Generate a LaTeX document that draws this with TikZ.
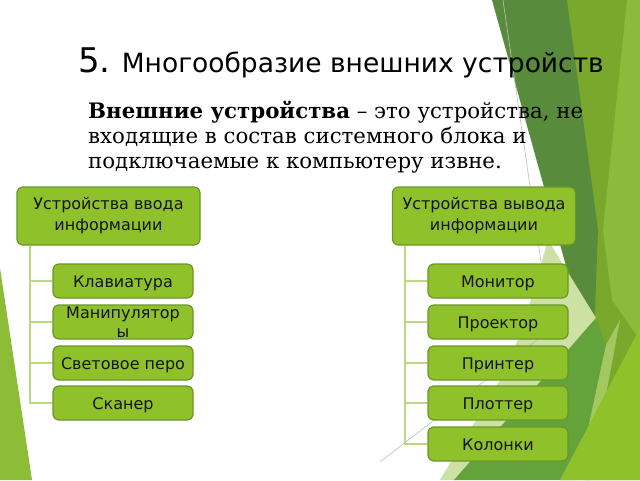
\documentclass[tikz,border=0pt]{standalone}
\usepackage{fontspec}
\setmainfont{DejaVu Serif}
\setsansfont{DejaVu Sans}
\definecolor{boxfill}{RGB}{143,193,43}
\definecolor{boxdraw}{RGB}{107,150,38}
\definecolor{boxtext}{RGB}{20,20,20}
\definecolor{connc}{RGB}{186,217,124}
\definecolor{olive}{RGB}{122,168,44}
\definecolor{lightstrip}{RGB}{140,186,58}
\definecolor{darkg}{RGB}{88,140,60}
\definecolor{paleg}{RGB}{205,225,165}
\definecolor{midg}{RGB}{100,162,60}
\definecolor{limeg}{RGB}{143,194,42}
\definecolor{leftg}{RGB}{141,189,55}
\definecolor{thinline}{RGB}{190,190,190}
\begin{document}
\begin{tikzpicture}[x=1pt,y=-1pt,
  box/.style={draw=boxdraw, line width=1.2pt, fill=boxfill, rounded corners=6pt,
    text=boxtext, font=\sffamily\fontsize{16}{21}\selectfont, align=center, inner sep=0pt},
  head/.style={box, minimum width=183pt, minimum height=58pt},
  item/.style={box, minimum width=140pt, minimum height=34pt, text height=12.5pt, text depth=0pt},
  itemtext/.style={anchor=base, inner sep=0pt, font=\sffamily\fontsize{16}{21}\selectfont, text=boxtext},
  conn/.style={draw=connc, line width=1.5pt},
  bodytext/.style={anchor=base west, inner sep=0pt, text=black, font=\fontsize{21.3}{25}\selectfont}]
\useasboundingbox (0,0) rectangle (640,480);
\fill[white] (0,0) rectangle (640,480);
% background facets
\fill[leftg] (0,268) -- (32,480) -- (0,480) -- cycle;
\fill[olive] (560,0) -- (640,0) -- (640,480) -- (585,480) -- cycle;
\fill[lightstrip] (627,0) -- (640,0) -- (640,340) -- (612,300) -- (603,230) -- cycle;
\fill[darkg] (492,0) -- (567,0) -- (598,230) -- (593,363) -- cycle;
\fill[paleg] (548,240) -- (596,318) -- (455,480) -- (440,480) -- (500,380) -- (522,330) -- cycle;
\fill[midg] (454,480) -- (596,318) -- (606,345) -- (577,480) -- cycle;
\fill[lightstrip!80!white] (606,345) -- (620,320) -- (590,480) -- (577,480) -- cycle;
\fill[limeg] (560,480) -- (640,328) -- (640,480) -- cycle;
\draw[thinline, line width=0.6pt] (503,0) -- (541,262);
\draw[thinline, line width=0.6pt] (380,462) -- (550,330);
% title
\node[anchor=base west, inner sep=0pt, font=\sffamily\fontsize{26.5}{32}\selectfont] (title) at (78,72)
  {{\fontsize{34}{40}\selectfont 5.} Многообразие внешних устройств};
\node[bodytext] (b1) at (88,118) {\textbf{Внешние устройства} – это устройства, не};
\node[bodytext] (b2) at (88,143) {входящие в состав системного блока и};
\node[bodytext] (b3) at (88,168) {подключаемые к компьютеру извне.};
% connectors
\coordinate (lx) at (30,0);
\coordinate (rx) at (405,0);
% boxes
\node[head] (lh) at (108.5,216) {Устройства ввода\\информации};
\node[head] (rh) at (484,216) {Устройства вывода\\информации};
\node[item] (l1) at (123,281) {Клавиатура};
\node[item] (l2) at (123,322) {};
\node[item] (l3) at (123,363) {Световое перо};
\node[item] (l4) at (123,403) {Сканер};
\node[itemtext] (l2a) at (l2.center |- 0,318) {Манипулятор};
\node[itemtext] (l2b) at (l2.center |- 0,337) {ы};
\node[item] (r1) at (498,281) {Монитор};
\node[item] (r2) at (498,322) {Проектор};
\node[item] (r3) at (498,363) {Принтер};
\node[item] (r4) at (498,403) {Плоттер};
\node[item] (r5) at (498,444) {Колонки};
\foreach \n in {l1,l2,l3,l4} \draw[conn] (lh.south -| lx) |- (\n.west);
\foreach \n in {r1,r2,r3,r4,r5} \draw[conn] (rh.south -| rx) |- (\n.west);
\end{tikzpicture}
\end{document}
